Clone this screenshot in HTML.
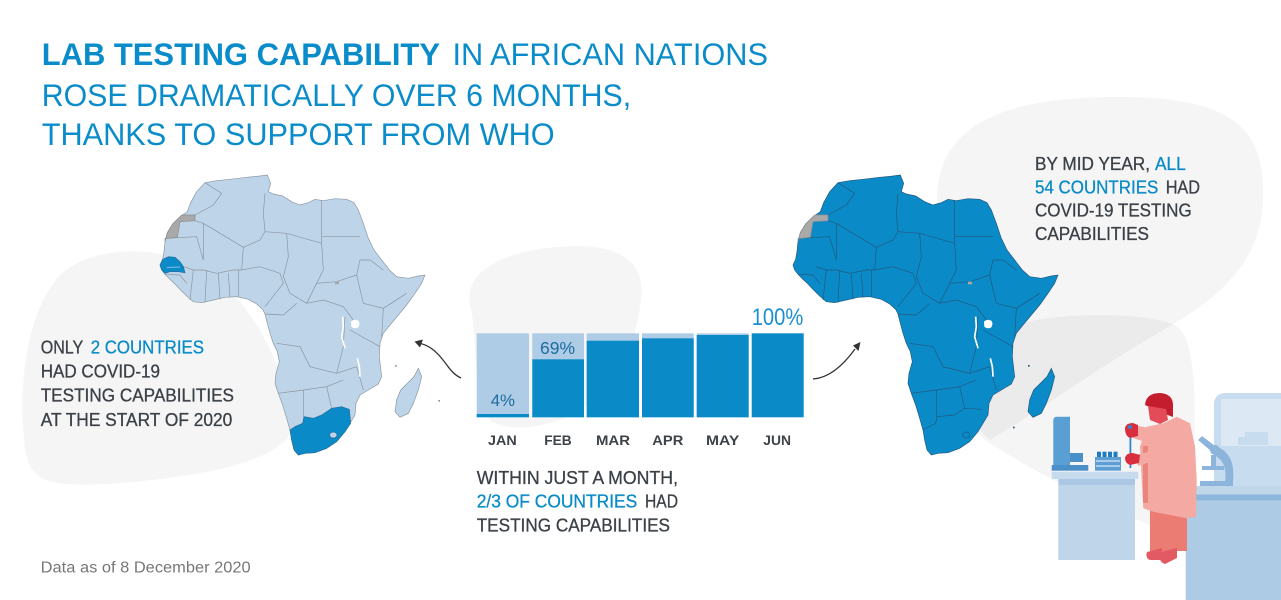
<!DOCTYPE html>
<html>
<head>
<meta charset="utf-8">
<style>
  html,body{margin:0;padding:0;background:#fff;}
  svg{display:block;}
  text{font-family:"Liberation Sans",sans-serif;}
</style>
</head>
<body>
<svg width="1281" height="600" viewBox="0 0 1281 600" xmlns="http://www.w3.org/2000/svg">
  <rect width="1281" height="600" fill="#ffffff"/>

  <!-- background blobs -->
  <path d="M24,440 C18,380 28,310 60,275 C85,252 130,246 170,256 C215,268 245,300 268,345 C285,380 295,415 288,438 C265,462 215,472 160,479 C110,485 60,488 42,478 C28,470 25,455 24,440 Z" fill="#000" fill-opacity="0.04"/>
  <path d="M470,305 C462,265 520,246 580,246 C628,247 645,268 641,300 C637,340 618,385 580,410 C548,430 505,432 490,420 C472,400 478,335 470,305 Z" fill="#000" fill-opacity="0.04"/>
  <path d="M937,205 C935,125 1000,97 1120,97 C1232,97 1266,128 1263,200 C1261,262 1220,298 1160,332 C1095,370 1040,410 990,440 C958,418 938,300 937,205 Z" fill="#000" fill-opacity="0.04"/>
  <path d="M1000,330 C1040,312 1140,310 1175,325 C1200,340 1195,420 1193,505 L1150,525 C1100,505 1030,470 985,440 C960,420 965,345 1000,330 Z" fill="#000" fill-opacity="0.04"/>

  <!-- LEFT MAP -->
  <g transform="translate(150,160) scale(0.33333)">
    <path d="M165,68 L200,62 L240,58 L290,52 L330,48 L352,45 L362,70 L355,95 L370,102 L398,108 L425,125 L450,135 L475,128 L495,118 L520,122 L555,116 L590,118 L612,128 L625,150 L640,190 L655,235 L672,270 L695,300 L718,330 L740,350 L775,355 L805,348 L825,345 L815,370 L795,400 L770,435 L745,465 L720,495 L700,520 L690,550 L688,590 L692,625 L695,650 L685,672 L655,690 L630,705 L618,730 L615,765 L600,790 L585,815 L560,845 L530,865 L495,878 L465,880 L445,885 L432,870 L425,840 L420,810 L410,775 L398,735 L385,700 L375,670 L378,640 L388,605 L382,575 L370,550 L360,520 L352,490 L345,462 L338,448 L320,432 L295,418 L260,410 L225,412 L190,420 L155,428 L130,425 L110,408 L90,388 L75,372 L60,358 L45,343 L35,330 L30,315 L38,298 L42,275 L45,245 L52,218 L68,192 L88,172 L112,155 L122,128 L140,95 Z" fill="#bed4e9" stroke="#8a96a2" stroke-width="2"/>
    <g fill="none" stroke="#8a96a2" stroke-width="2">
      <polyline points="165,68 215,100 190,135 135,165"/>
      <polyline points="135,182 160,190 160,300"/>
      <polyline points="160,190 280,262 330,240 345,215 340,160 345,100"/>
      <polyline points="345,215 410,220 515,250"/>
      <polyline points="515,120 515,250"/>
      <polyline points="515,230 630,230"/>
      <polyline points="410,220 415,290 400,350 420,400 470,430"/>
      <polyline points="280,262 275,330 330,320 390,340"/>
      <polyline points="265,330 265,410"/>
      <polyline points="390,340 400,370 345,440"/>
      <polyline points="515,250 520,330 500,370 470,430"/>
      <polyline points="500,370 560,365 620,345 630,300"/>
      <polyline points="630,300 660,300 700,330"/>
      <polyline points="620,345 640,430"/>
      <polyline points="640,430 700,445 770,400"/>
      <polyline points="700,445 695,530"/>
      <polyline points="470,430 520,420 580,440 610,480"/>
      <polyline points="600,510 690,560"/>
      <polyline points="345,462 400,465 440,430"/>
      <polyline points="380,550 450,560 480,620 560,640 580,560 585,470"/>
      <polyline points="560,640 620,620 640,690"/>
      <polyline points="385,700 460,690 530,680 580,660"/>
      <polyline points="460,690 460,770"/>
      <polyline points="530,680 545,745"/>
      <polyline points="100,320 130,330 160,330 200,340 250,330 275,330"/>
      <polyline points="130,330 120,420"/>
      <polyline points="170,330 165,428"/>
      <polyline points="205,340 210,418"/>
      <polyline points="235,340 240,412"/>
      <polyline points="45,343 90,345 110,370"/>
      <polyline points="45,235 140,230 160,300"/>
    </g>
    <!-- South Africa -->
    <path d="M420,810 L435,800 L458,790 L462,770 L490,775 L515,765 L545,745 L575,740 L598,748 L602,790 L585,815 L560,845 L530,865 L495,878 L465,880 L445,885 L432,870 L425,840 Z" fill="#0a8bc8" stroke="#2a6a96" stroke-width="2"/>
    <ellipse cx="550" cy="825" rx="11" ry="9" fill="#bed4e9" stroke="#2a6a96" stroke-width="2"/>
    <!-- Senegal -->
    <path d="M30,315 L38,298 L55,290 L75,292 L90,305 L100,320 L105,338 L85,335 L60,335 L45,340 L35,330 Z" fill="#0a8bc8" stroke="#2a6a96" stroke-width="2"/>
    <path d="M50,322 L90,321" stroke="#bed4e9" stroke-width="2"/>
    <!-- Western Sahara -->
    <path d="M45,245 L52,218 L68,192 L88,172 L95,165 L135,165 L135,182 L90,185 L82,232 L45,236 Z" fill="#a9a9a9" stroke="#8a8a8a" stroke-width="2"/>
    <rect x="555" y="365" width="12" height="8" fill="#a9a9a9"/>
    <!-- lakes -->
    <path d="M603,485 Q612,476 625,482 Q632,492 624,503 Q612,508 604,500 Z" fill="#fff"/>
    <polyline points="578,470 580,500 575,530 585,565" fill="none" stroke="#fff" stroke-width="5"/>
    <polyline points="622,595 628,620 630,650" fill="none" stroke="#fff" stroke-width="5"/>
    <!-- Madagascar -->
    <path d="M805,625 L815,650 L805,690 L790,730 L775,760 L750,772 L735,755 L740,720 L752,690 L772,670 L792,650 Z" fill="#bed4e9" stroke="#8a96a2" stroke-width="2"/>
    <rect x="735" y="615" width="5" height="5" fill="#8a96a2"/>
    <rect x="865" y="720" width="5" height="5" fill="#8a96a2"/>
  </g>

  <!-- RIGHT MAP -->
  <g transform="translate(783,160) scale(0.33333)">
    <path d="M165,68 L200,62 L240,58 L290,52 L330,48 L352,45 L362,70 L355,95 L370,102 L398,108 L425,125 L450,135 L475,128 L495,118 L520,122 L555,116 L590,118 L612,128 L625,150 L640,190 L655,235 L672,270 L695,300 L718,330 L740,350 L775,355 L805,348 L825,345 L815,370 L795,400 L770,435 L745,465 L720,495 L700,520 L690,550 L688,590 L692,625 L695,650 L685,672 L655,690 L630,705 L618,730 L615,765 L600,790 L585,815 L560,845 L530,865 L495,878 L465,880 L445,885 L432,870 L425,840 L420,810 L410,775 L398,735 L385,700 L375,670 L378,640 L388,605 L382,575 L370,550 L360,520 L352,490 L345,462 L338,448 L320,432 L295,418 L260,410 L225,412 L190,420 L155,428 L130,425 L110,408 L90,388 L75,372 L60,358 L45,343 L35,330 L30,315 L38,298 L42,275 L45,245 L52,218 L68,192 L88,172 L112,155 L122,128 L140,95 Z" fill="#0a8bc8" stroke="#24577c" stroke-width="2"/>
    <g fill="none" stroke="#24577c" stroke-width="2">
      <polyline points="165,68 215,100 190,135 135,165"/>
      <polyline points="135,182 160,190 160,300"/>
      <polyline points="160,190 280,262 330,240 345,215 340,160 345,100"/>
      <polyline points="345,215 410,220 515,250"/>
      <polyline points="515,120 515,250"/>
      <polyline points="515,230 630,230"/>
      <polyline points="410,220 415,290 400,350 420,400 470,430"/>
      <polyline points="280,262 275,330 330,320 390,340"/>
      <polyline points="265,330 265,410"/>
      <polyline points="390,340 400,370 345,440"/>
      <polyline points="515,250 520,330 500,370 470,430"/>
      <polyline points="500,370 560,365 620,345 630,300"/>
      <polyline points="630,300 660,300 700,330"/>
      <polyline points="620,345 640,430"/>
      <polyline points="640,430 700,445 770,400"/>
      <polyline points="700,445 695,530"/>
      <polyline points="470,430 520,420 580,440 610,480"/>
      <polyline points="600,510 690,560"/>
      <polyline points="345,462 400,465 440,430"/>
      <polyline points="380,550 450,560 480,620 560,640 580,560 585,470"/>
      <polyline points="560,640 620,620 640,690"/>
      <polyline points="385,700 460,690 530,680 580,660"/>
      <polyline points="460,690 460,770"/>
      <polyline points="530,680 545,745"/>
      <polyline points="100,320 130,330 160,330 200,340 250,330 275,330"/>
      <polyline points="130,330 120,420"/>
      <polyline points="170,330 165,428"/>
      <polyline points="205,340 210,418"/>
      <polyline points="235,340 240,412"/>
      <polyline points="45,343 90,345 110,370"/>
      <polyline points="45,235 140,230 160,300"/>
      <polyline points="420,810 458,790 462,770 515,765 545,745 598,748"/>
      <ellipse cx="550" cy="825" rx="11" ry="9"/>
    </g>
    <path d="M45,245 L52,218 L68,192 L88,172 L95,165 L135,165 L135,182 L90,185 L82,232 L45,236 Z" fill="#a9a9a9" stroke="#8a8a8a" stroke-width="2"/>
    <rect x="555" y="365" width="12" height="8" fill="#a9a9a9"/>
    <path d="M603,485 Q612,476 625,482 Q632,492 624,503 Q612,508 604,500 Z" fill="#fff"/>
    <polyline points="578,470 580,500 575,530 585,565" fill="none" stroke="#fff" stroke-width="5"/>
    <polyline points="622,595 628,620 630,650" fill="none" stroke="#fff" stroke-width="5"/>
    <path d="M805,625 L815,650 L805,690 L790,730 L775,760 L750,772 L735,755 L740,720 L752,690 L772,670 L792,650 Z" fill="#0a8bc8" stroke="#24577c" stroke-width="2"/>
    <rect x="735" y="615" width="5" height="5" fill="#24577c"/>
    <rect x="690" y="800" width="5" height="5" fill="#24577c"/>
  </g>

  <!-- arrows -->
  <path d="M461,378 C452,374 448,366 443,360 C436,351 429,345 420,343.5" fill="none" stroke="#333" stroke-width="1.3"/>
  <polygon points="414.5,341.5 423,339.5 420,347.5" fill="#333"/>
  <path d="M813,379 C828,378 842,367 855,349" fill="none" stroke="#333" stroke-width="1.3"/>
  <polygon points="860.5,342 853,345.5 858.5,351" fill="#333"/>

  <!-- bars -->
  <g>
    <rect x="476.7" y="333.3" width="52.3" height="84" fill="#afcce6"/>
    <rect x="476.7" y="414" width="52.3" height="3.3" fill="#0a8bc8"/>
    <rect x="532.3" y="333.3" width="51.7" height="84" fill="#afcce6"/>
    <rect x="532.3" y="359.3" width="51.7" height="58" fill="#0a8bc8"/>
    <rect x="586.7" y="333.3" width="52.3" height="84" fill="#afcce6"/>
    <rect x="586.7" y="340.7" width="52.3" height="76.6" fill="#0a8bc8"/>
    <rect x="642" y="333.3" width="51.7" height="84" fill="#afcce6"/>
    <rect x="642" y="338.3" width="51.7" height="79" fill="#0a8bc8"/>
    <rect x="696.7" y="333.3" width="52" height="84" fill="#afcce6"/>
    <rect x="696.7" y="335" width="52" height="82.3" fill="#0a8bc8"/>
    <rect x="751.7" y="333.3" width="52" height="84" fill="#0a8bc8"/>
  </g>
  <text x="490.7" y="406" font-size="17" fill="#1c6c9f" textLength="24.3" lengthAdjust="spacingAndGlyphs">4%</text>
  <text x="540" y="354" font-size="17.5" fill="#1c6c9f" textLength="35" lengthAdjust="spacingAndGlyphs">69%</text>
  <text x="751.7" y="325" font-size="24" fill="#1a8fd0" textLength="51.6" lengthAdjust="spacingAndGlyphs">100%</text>

  <g font-size="14" font-weight="700" fill="#3d4349">
    <text x="488" y="445" textLength="28.7" lengthAdjust="spacingAndGlyphs">JAN</text>
    <text x="544.3" y="445" textLength="27.4" lengthAdjust="spacingAndGlyphs">FEB</text>
    <text x="596" y="445" textLength="34" lengthAdjust="spacingAndGlyphs">MAR</text>
    <text x="652.3" y="445" textLength="31" lengthAdjust="spacingAndGlyphs">APR</text>
    <text x="706" y="445" textLength="33.3" lengthAdjust="spacingAndGlyphs">MAY</text>
    <text x="763.3" y="445" textLength="27.7" lengthAdjust="spacingAndGlyphs">JUN</text>
  </g>

  <!-- title -->
  <g font-size="31.5" fill="#0a8ccb">
    <text x="41.7" y="65" font-weight="700" textLength="398.3" lengthAdjust="spacingAndGlyphs">LAB TESTING CAPABILITY</text>
    <text x="452.5" y="65" textLength="315.5" lengthAdjust="spacingAndGlyphs">IN AFRICAN NATIONS</text>
    <text x="41.7" y="106" textLength="589.5" lengthAdjust="spacingAndGlyphs">ROSE DRAMATICALLY OVER 6 MONTHS,</text>
    <text x="41.7" y="145" textLength="513" lengthAdjust="spacingAndGlyphs">THANKS TO SUPPORT FROM WHO</text>
  </g>

  <!-- left text -->
  <g font-size="18.5" fill="#3b4147" stroke="#3b4147" stroke-width="0.3">
    <text x="40.7" y="353.3" textLength="42.6" lengthAdjust="spacingAndGlyphs">ONLY</text>
    <text x="90.7" y="353.3" fill="#0a8bc8" stroke="#0a8bc8" textLength="113.3" lengthAdjust="spacingAndGlyphs">2 COUNTRIES</text>
    <text x="40.7" y="377.3" textLength="119.3" lengthAdjust="spacingAndGlyphs">HAD COVID-19</text>
    <text x="40.7" y="401.7" textLength="193.3" lengthAdjust="spacingAndGlyphs">TESTING CAPABILITIES</text>
    <text x="40.7" y="426" textLength="191.6" lengthAdjust="spacingAndGlyphs">AT THE START OF 2020</text>
  </g>

  <!-- right text -->
  <g font-size="18.5" fill="#3b4147" stroke="#3b4147" stroke-width="0.3">
    <text x="1035" y="170" textLength="115" lengthAdjust="spacingAndGlyphs">BY MID YEAR,</text>
    <text x="1155" y="170" fill="#0a8bc8" stroke="#0a8bc8" textLength="30.7" lengthAdjust="spacingAndGlyphs">ALL</text>
    <text x="1035" y="193.3" fill="#0a8bc8" stroke="#0a8bc8" textLength="123.3" lengthAdjust="spacingAndGlyphs">54 COUNTRIES</text>
    <text x="1165.7" y="193.3" textLength="34.3" lengthAdjust="spacingAndGlyphs">HAD</text>
    <text x="1035" y="216.5" textLength="156.7" lengthAdjust="spacingAndGlyphs">COVID-19 TESTING</text>
    <text x="1035" y="240" textLength="114" lengthAdjust="spacingAndGlyphs">CAPABILITIES</text>
  </g>

  <!-- middle text -->
  <g font-size="18.5" fill="#3b4147" stroke="#3b4147" stroke-width="0.3">
    <text x="476.7" y="484" textLength="201.3" lengthAdjust="spacingAndGlyphs">WITHIN JUST A MONTH,</text>
    <text x="476.7" y="507.7" fill="#0a8bc8" stroke="#0a8bc8" textLength="160.6" lengthAdjust="spacingAndGlyphs">2/3 OF COUNTRIES</text>
    <text x="645" y="507.7" textLength="33" lengthAdjust="spacingAndGlyphs">HAD</text>
    <text x="476.7" y="531.7" textLength="193.3" lengthAdjust="spacingAndGlyphs">TESTING CAPABILITIES</text>
  </g>

  <text x="40.7" y="572.3" font-size="15.5" fill="#777" textLength="210" lengthAdjust="spacingAndGlyphs">Data as of 8 December 2020</text>

  <!-- lab illustration -->
  <g>
    <!-- fume hood -->
    <path d="M1214,486 L1214,405 Q1214,393 1226,393 L1281,393 L1281,486 Z" fill="#c8dcef"/>
    <rect x="1221" y="399" width="60" height="47" fill="#dce8f4"/>
    <rect x="1245" y="432" width="23" height="13" fill="#c8dcef"/>
    <rect x="1238" y="437" width="10" height="8" fill="#c8dcef"/>
    <!-- microscope -->
    <g fill="#8db5dc">
      <polygon points="1198,440 1202,436 1215,446 1211,451"/>
      <circle cx="1215" cy="450" r="5"/>
      <path d="M1218,447 Q1236,455 1233,482 L1225,482 Q1228,462 1214,455 Z"/>
      <rect x="1202" y="466" width="22" height="4"/>
      <rect x="1211" y="455" width="5" height="12"/>
      <rect x="1200" y="481" width="33" height="5"/>
    </g>
    <!-- right bench -->
    <rect x="1178" y="486" width="103" height="8.3" fill="#c0d6eb"/>
    <rect x="1185.7" y="494.3" width="95.3" height="6.4" fill="#8cb6dc"/>
    <rect x="1185.7" y="500.7" width="95.3" height="99.3" fill="#aecbe6"/>
    <!-- left bench -->
    <rect x="1051.7" y="471.7" width="86.6" height="7.3" fill="#c7dbee"/>
    <rect x="1058.3" y="479" width="76.7" height="6" fill="#aac8e3"/>
    <rect x="1058.3" y="485" width="76.7" height="75" fill="#bed5ea"/>
    <!-- machine -->
    <path d="M1053.3,468 L1053.3,420 Q1053.3,416.7 1057,416.7 L1070,416.7 L1070,468 Z" fill="#5a9fd4"/>
    <rect x="1070" y="453" width="13" height="9" fill="#4a8fc8"/>
    <rect x="1051.7" y="465" width="36.6" height="5.7" fill="#4a8fc8"/>
    <!-- tube rack -->
    <rect x="1097" y="451.7" width="4" height="6" fill="#1e7cc4"/>
    <rect x="1102.5" y="451.7" width="4" height="6" fill="#1e7cc4"/>
    <rect x="1108" y="451.7" width="4" height="6" fill="#1e7cc4"/>
    <rect x="1113.5" y="451.7" width="4" height="6" fill="#1e7cc4"/>
    <rect x="1095" y="457" width="26" height="13.7" fill="#5d9ed4"/>
    <rect x="1096" y="460" width="24" height="2" fill="#a9cdeb"/>
    <rect x="1096" y="465" width="24" height="2" fill="#a9cdeb"/>
    <!-- person -->
    <rect x="1150" y="505" width="37" height="46" fill="#eb7c74"/>
    <path d="M1147,552 L1162,548 L1164,560 L1150,560 Q1145,558 1147,552 Z" fill="#e15a64"/>
    <path d="M1160,552 L1177,548 L1177,558 L1165,564 Q1158,562 1160,552 Z" fill="#e15a64"/>
    <polygon points="1140,446.7 1146.7,426.7 1163.3,423.3 1176.7,416.7 1190,423.3 1195,446.7 1196.7,480 1196,516.7 1186.7,518.3 1153.3,511.7 1143.3,508.3 1141.7,480" fill="#f4aaa3"/>
    <rect x="1143" y="446" width="5" height="57" fill="#e8857c"/>
    <polygon points="1132,425 1150,428 1162,440 1158,448 1145,442 1133,438" fill="#f4aaa3"/>
    <polygon points="1136,455 1148,452 1150,462 1138,466" fill="#f4aaa3"/>
    <path d="M1145,405 Q1146,393 1160,393 Q1173,394 1173,405 L1173,417 L1160,412 Z" fill="#c41e2e"/>
    <path d="M1148,406 L1166,409 L1168,420 L1160,424 L1150,420 Z" fill="#e34b59"/>
    <rect x="1129.5" y="427" width="1.8" height="41" fill="#2f86cc"/>
    <path d="M1125,428 Q1126,423 1133,423 L1138,425 L1138,436 L1130,438 Q1125,436 1125,428 Z" fill="#d92e3e"/>
    <path d="M1125,458 Q1126,453 1133,453 L1140,455 L1139,463 L1130,465 Q1125,463 1125,458 Z" fill="#d92e3e"/>
    <circle cx="1130" cy="427" r="2" fill="#2f86cc"/>
  </g>
</svg>
</body>
</html>
